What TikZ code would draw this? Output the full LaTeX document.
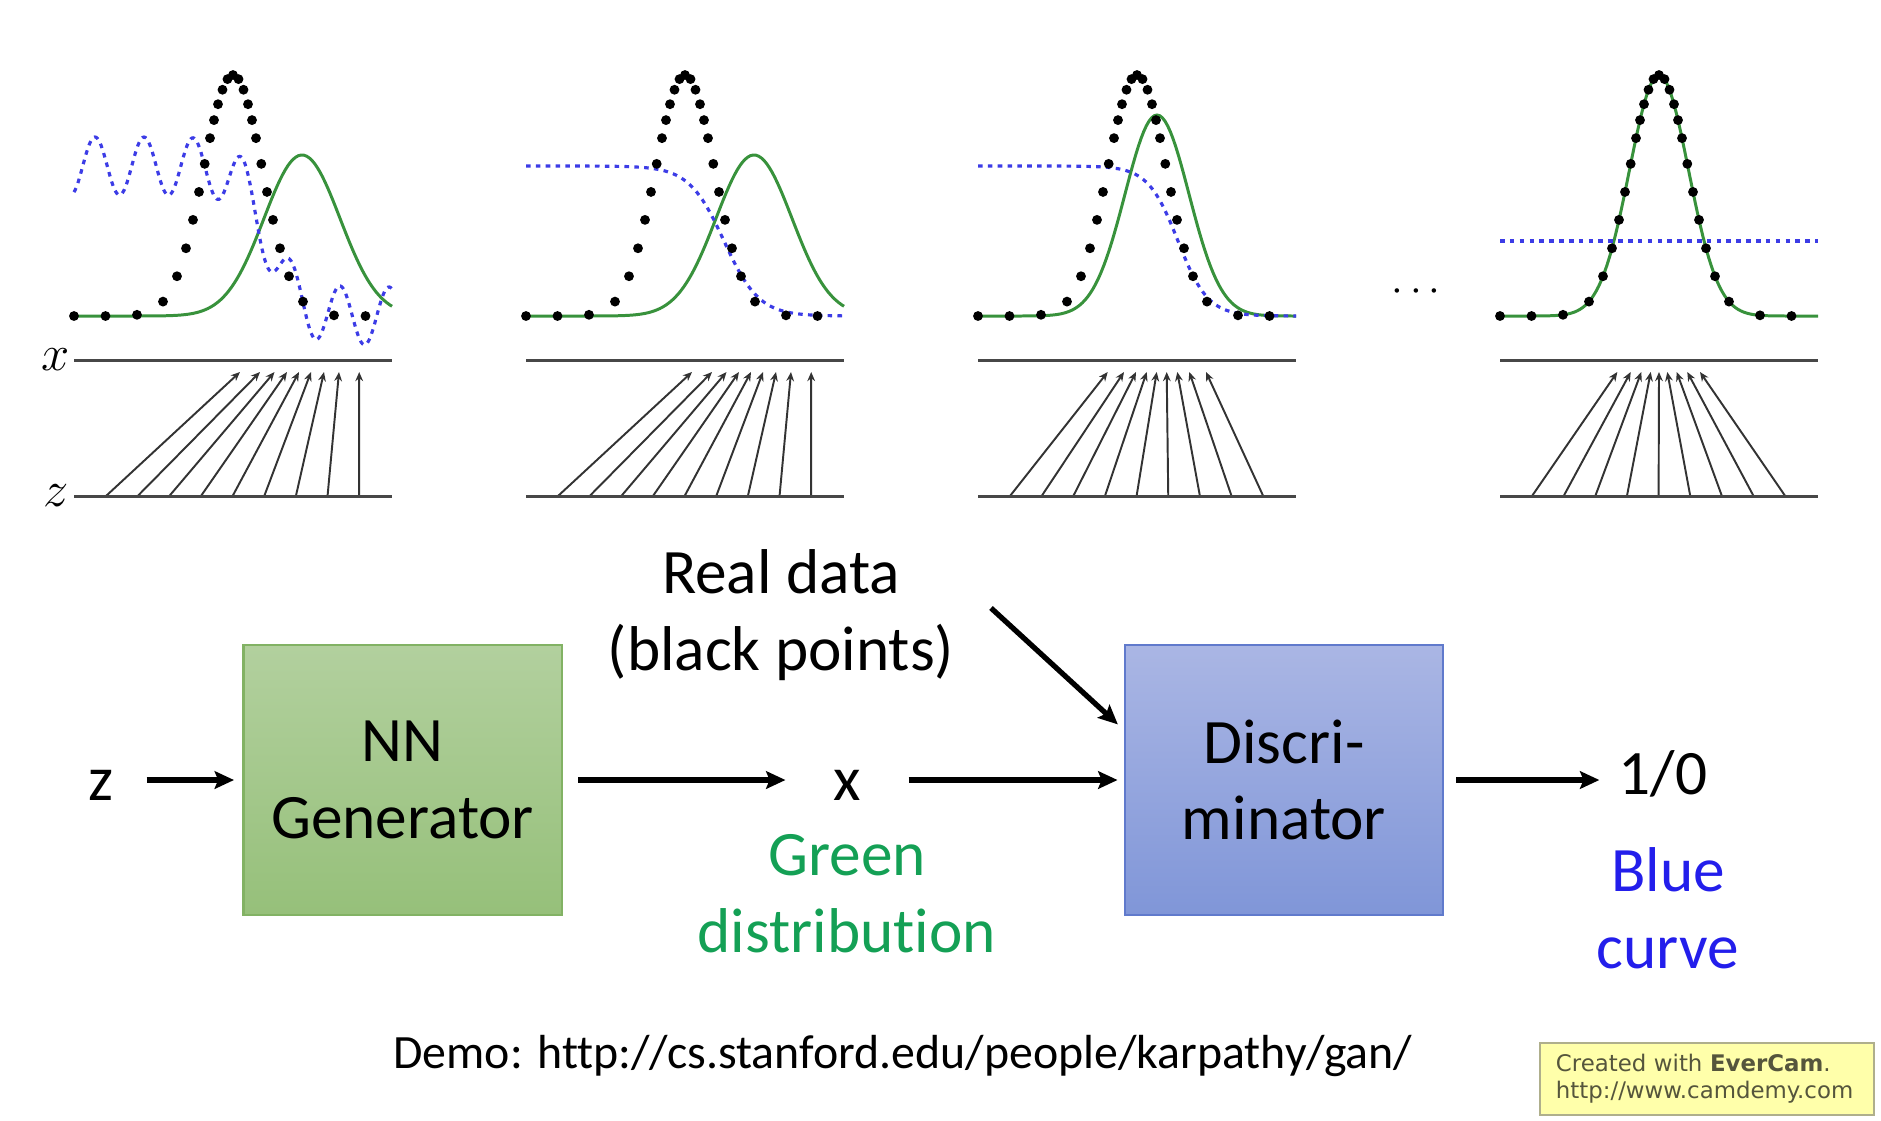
\documentclass[tikz,border=0pt]{standalone}
\usepackage{fontspec}
\setmainfont{Carlito}[Ligatures=NoCommon]
\newfontfamily\wmfont{DejaVu Sans}
\usetikzlibrary{arrows.meta, calc}

\definecolor{curvegreen}{RGB}{56,146,60}
\definecolor{curveblue}{RGB}{60,60,230}
\definecolor{gentop}{RGB}{178,208,158}
\definecolor{genbot}{RGB}{150,192,122}
\definecolor{genedge}{RGB}{130,178,100}
\definecolor{disctop}{RGB}{170,182,228}
\definecolor{discbot}{RGB}{128,150,216}
\definecolor{discedge}{RGB}{96,122,204}
\definecolor{labgreen}{RGB}{20,160,85}
\definecolor{labblue}{RGB}{35,30,235}
\definecolor{wmfill}{RGB}{255,255,170}
\definecolor{wmedge}{RGB}{175,175,140}
\definecolor{wmtext}{RGB}{85,85,60}

\begin{document}
\begin{tikzpicture}[x=0.01cm, y=-0.01cm, >=Stealth,
  axisline/.style={line width=0.85pt, black!72},
  mapline/.style={line width=0.55pt, black!80, -{Stealth[length=2.6pt, width=2.2pt]}},
  pgen/.style={line width=0.85pt, curvegreen},
  dcurve/.style={line width=0.9pt, curveblue, dash pattern=on 1.3pt off 1.5pt},
  bigtext/.style={font=\fontsize{18}{21.8}\selectfont, align=center, inner sep=0pt},
  netbox/.style={bigtext, minimum width=3.18cm, minimum height=2.69cm, line width=0.6pt},
  bigarrow/.style={-{Stealth[length=5.5pt, width=5pt, inset=1pt]}, line width=1.5pt}]

\useasboundingbox (0,0) rectangle (1881,1120);

% --- Axis labels (first panel only) ---
\node[font=\fontsize{15}{15}\selectfont, inner sep=0pt] (xaxis) at (56, 360) {$x$};
\node[font=\fontsize{15}{15}\selectfont, inner sep=0pt] (zaxis) at (56, 496) {$z$};

% --- Panel (a): generator far off, wavy discriminator ---
\draw[pgen] plot[domain=0:318, samples=120] ({74+\x}, {316 - 161*exp(-0.5*((\x-228)/38)^2)});
\draw[dcurve] plot[domain=0:318, samples=260]
  ({74+\x}, {316 - 150/(1+exp((\x-194.5)/14.5)) - 29*cos(7.3469*(\x-21))});
\foreach \t [count=\k from 0] in {166, 186, 200.5, 213, 225, 237, 250, 265, 285.2}
  \draw[mapline] ({74 + 32 + 31.65*\k}, 496) -- ({74 + \t}, 372);

% --- Panel (b): discriminator converged ---
\draw[pgen] plot[domain=0:318, samples=120] ({526+\x}, {316 - 161*exp(-0.5*((\x-228)/38)^2)});
\draw[dcurve] plot[domain=0:318, samples=120] ({526+\x}, {316 - 150/(1+exp((\x-198)/17.5))});
\foreach \t [count=\k from 0] in {166, 186, 200.5, 213, 225, 237, 250, 265, 285.2}
  \draw[mapline] ({526 + 32 + 31.65*\k}, 496) -- ({526 + \t}, 372);

% --- Panel (c): generator moves toward data ---
\draw[pgen] plot[domain=0:318, samples=120] ({978+\x}, {316 - 201*exp(-0.5*((\x-179)/32)^2)});
\draw[dcurve] plot[domain=0:318, samples=120] ({978+\x}, {316 - 150/(1+exp((\x-200)/15))});
\foreach \t [count=\k from 0] in {129.7, 146, 158, 168.7, 178.7, 188.7, 199.3, 211.3, 228}
  \draw[mapline] ({978 + 32 + 31.65*\k}, 496) -- ({978 + \t}, 372);

% --- Dots between panels ---
\node[font=\fontsize{13}{13}\selectfont, inner sep=0pt] (gapdots) at (1416, 292) {$\cdots$};

% --- Panel (d): equilibrium, D = 1/2 ---
\draw[pgen] plot[domain=0:318, samples=120] ({1500+\x}, {316 - 241*exp(-0.5*((\x-159)/29.5)^2)});
\draw[dcurve] (1500, 241) -- ++(318, 0);
\foreach \t [count=\k from 0] in {117.3, 130.7, 141.3, 150.7, 159, 167.3, 176.7, 187.3, 200}
  \draw[mapline] ({1500 + 32 + 31.65*\k}, 496) -- ({1500 + \t}, 372);

% --- x and z lines, real data points (all panels) ---
\foreach \p in {74, 526, 978, 1500} {
  \draw[axisline] (\p, 360) -- ++(318, 0);
  \draw[axisline] (\p, 496) -- ++(318, 0);
  \foreach \d in {-159, -127.5, -96, -70, -56, -47, -40, -34, -28.3, -23, -19, -15, -10.5, -5.5,
                  0, 5.5, 10.5, 15, 19, 23, 28.3, 34, 40, 47, 56, 70, 101, 132.5}
    \fill ({\p + 159 + \d}, {316 - 241*exp(-0.5*(\d/29.5)^2)}) circle (1.4pt);
}

% --- Networks ---
\node[netbox, draw=genedge, top color=gentop, bottom color=genbot] (gen) at (402.6, 780) {NN\\Generator};
\node[netbox, draw=discedge, top color=disctop, bottom color=discbot] (disc) at (1284, 780) {Discri-\\minator};

% --- Labels ---
\node[bigtext, anchor=base] (zin) at (101, 800) {z};
\node[bigtext, anchor=base] (xlbl) at (847, 800) {x};
\node[bigtext, anchor=base] (outlbl) at (1663, 794) {1/0};
\node[bigtext] (real) at (781, 615) {Real data\\(black points)};
\node[bigtext, text=labgreen] (greenlbl) at (847, 894) {Green\\distribution};
\node[bigtext, text=labblue] (bluelbl) at (1668, 908) {Blue\\curve};
\coordinate (realtail) at (991, 608);

% --- Arrows ---
\draw[bigarrow, shorten <=9.2pt, shorten >=2.4pt] (zin.east |- gen.west) -- (gen.west);
\draw[bigarrow, shorten <=4.4pt, shorten >=13.4pt] (gen.east) -- (xlbl.west |- gen.east);
\draw[bigarrow, shorten <=13.4pt, shorten >=1.8pt] (xlbl.east |- disc.west) -- (disc.west);
\draw[bigarrow, shorten <=3.5pt, shorten >=5.3pt] (disc.east) -- (outlbl.west |- disc.east);
\draw[bigarrow] (realtail) -- ($(disc.north west)+(-6,80)$);

% --- Footer ---
\node[font=\fontsize{13.6}{16}\selectfont, anchor=base, inner sep=0pt] (demo) at (903, 1068)
  {Demo: http://cs.stanford.edu/people/karpathy/gan/};
\node[draw=wmedge, fill=wmfill, line width=0.5pt, text=wmtext, minimum width=3.34cm,
  minimum height=0.70cm, text width=3.02cm, inner xsep=0.16cm, align=left,
  font=\wmfont\fontsize{6.5}{7.7}\selectfont] (stamp) at (1707, 1079)
  {Created with \textbf{EverCam}.\\http://www.camdemy.com};

\end{tikzpicture}
\end{document}
